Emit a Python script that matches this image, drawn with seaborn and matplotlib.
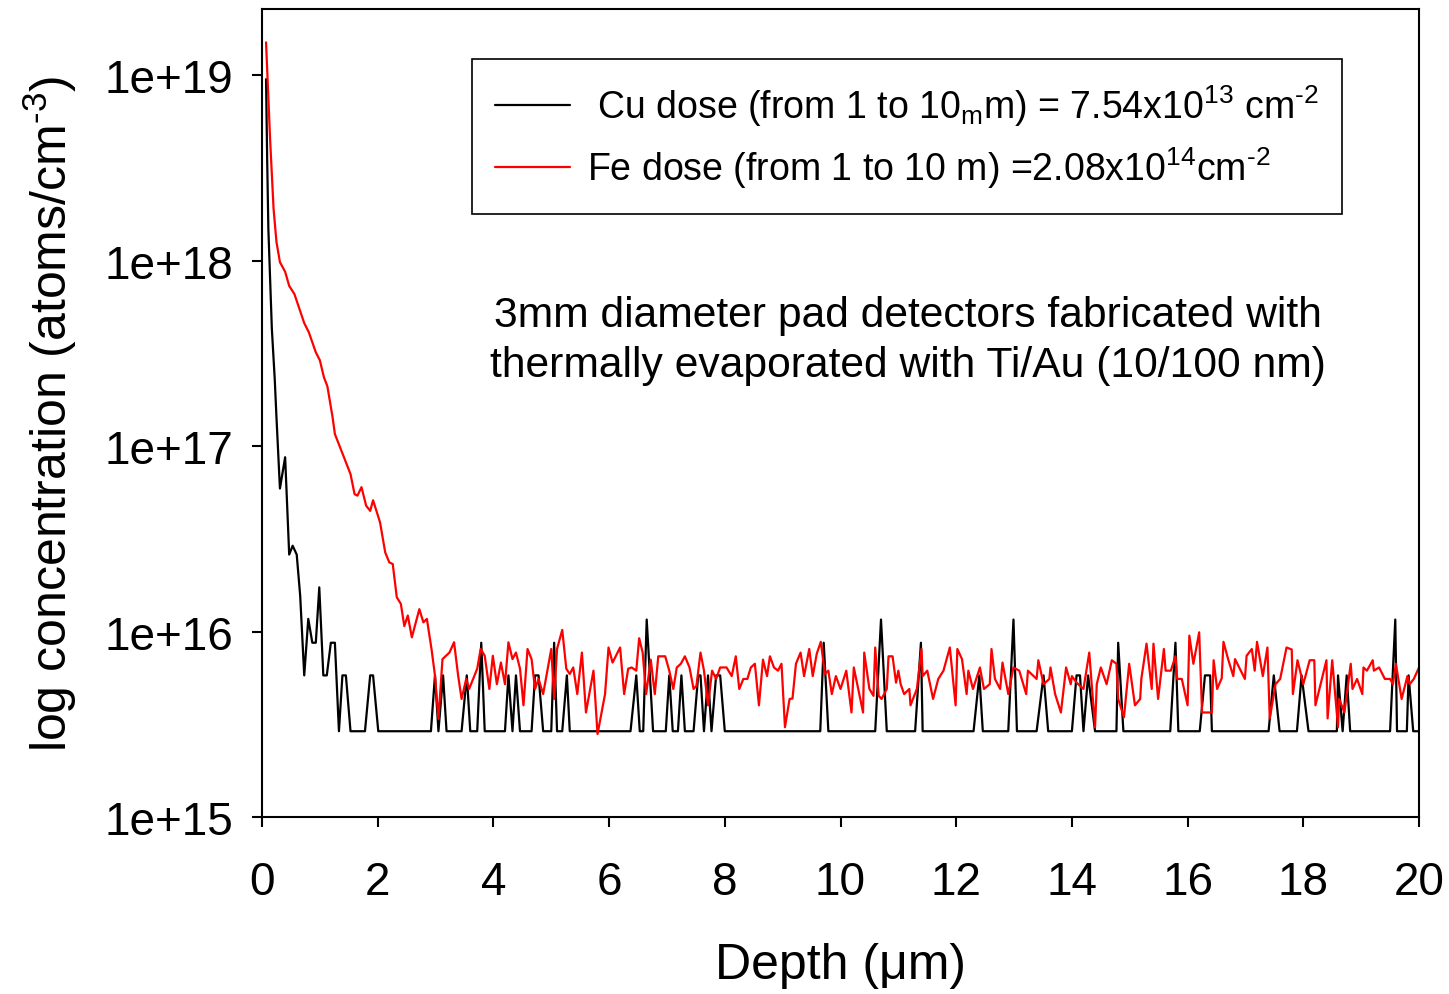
import numpy as np
import pandas as pd
import matplotlib
matplotlib.use("Agg")
import matplotlib.pyplot as plt
from matplotlib.ticker import NullLocator
import seaborn as sns

# ---------------- data (concentrations in units of 1e15 atoms/cm^3) ----------------
fe_depth = [
    0.07, 0.14, 0.20, 0.25, 0.31, 0.40, 0.47, 0.56, 0.73, 0.81,
    0.93, 1.00, 1.07, 1.13, 1.22, 1.26, 1.53, 1.60, 1.65, 1.72,
    1.80, 1.87, 1.92, 2.04, 2.13, 2.20, 2.26, 2.33, 2.40, 2.46,
    2.52, 2.59, 2.72, 2.79, 2.85, 2.93, 2.99, 3.05, 3.12, 3.24,
    3.32, 3.39, 3.45, 3.53, 3.58, 3.65, 3.72, 3.78, 3.85, 3.93,
    3.99, 4.06, 4.13, 4.20, 4.26, 4.33, 4.39, 4.46, 4.52, 4.59,
    4.66, 4.72, 4.78, 4.86, 5.00, 5.05, 5.10, 5.19, 5.26, 5.32,
    5.38, 5.45, 5.53, 5.60, 5.73, 5.80, 5.93, 5.99, 6.06, 6.19,
    6.26, 6.33, 6.39, 6.47, 6.52, 6.58, 6.64, 6.72, 6.79, 6.85,
    6.97, 7.04, 7.11, 7.17, 7.24, 7.31, 7.39, 7.46, 7.51, 7.58,
    7.64, 7.71, 7.78, 7.85, 7.92, 8.03, 8.12, 8.19, 8.25, 8.32,
    8.39, 8.45, 8.52, 8.59, 8.66, 8.73, 8.78, 8.85, 8.92, 8.98,
    9.04, 9.12, 9.17, 9.23, 9.31, 9.37, 9.46, 9.52, 9.59, 9.66,
    9.73, 9.79, 9.85, 9.92, 10.00, 10.10, 10.19, 10.23, 10.29, 10.39,
    10.41, 10.50, 10.57, 10.60, 10.66, 10.71, 10.80, 10.83, 10.90, 10.96,
    11.00, 11.04, 11.10, 11.19, 11.21, 11.32, 11.40, 11.42, 11.50, 11.60,
    11.69, 11.78, 11.89, 11.99, 12.02, 12.10, 12.18, 12.21, 12.29, 12.41,
    12.48, 12.58, 12.61, 12.67, 12.76, 12.80, 12.90, 12.99, 13.09, 13.21,
    13.24, 13.39, 13.42, 13.51, 13.61, 13.63, 13.71, 13.81, 13.90, 13.98,
    14.00, 14.08, 14.20, 14.30, 14.40, 14.43, 14.50, 14.60, 14.69, 14.77,
    14.80, 14.90, 14.99, 15.09, 15.18, 15.20, 15.29, 15.38, 15.41, 15.49,
    15.59, 15.62, 15.71, 15.79, 15.82, 15.90, 16.00, 16.03, 16.10, 16.20,
    16.25, 16.42, 16.45, 16.51, 16.59, 16.62, 16.70, 16.79, 16.82, 16.99,
    17.02, 17.11, 17.16, 17.20, 17.30, 17.38, 17.42, 17.52, 17.60, 17.71,
    17.80, 17.82, 17.90, 18.00, 18.11, 18.19, 18.21, 18.40, 18.42, 18.50,
    18.60, 18.62, 18.71, 18.82, 18.85, 18.93, 19.02, 19.04, 19.10, 19.20,
    19.22, 19.31, 19.41, 19.50, 19.55, 19.60, 19.70, 19.80, 19.84, 19.91,
    20.00,
]
fe_conc = [
    15000, 4500, 1900, 1260, 980, 870, 730, 660, 460, 410,
    320, 290, 235, 210, 143, 116, 70.6, 55, 54, 60,
    47.7, 44.7, 51, 38.8, 26.7, 23.6, 23.1, 15.3, 14.1, 10.7,
    12.2, 9.3, 13.2, 11.2, 11.7, 8.05, 5.8, 3.38, 7.1, 7.7,
    8.75, 5.8, 4.33, 5.55, 4.9, 5.55, 6.3, 8.05, 7.4, 4.9,
    7.4, 5.2, 6.8, 5.2, 8.75, 7.1, 7.7, 6.3, 4.0, 8.05,
    7.1, 4.9, 5.55, 4.6, 8.05, 4.33, 8.05, 10.2, 6.3, 5.9,
    6.4, 4.6, 7.7, 3.66, 6.15, 2.8, 4.6, 8.2, 6.8, 8.2,
    4.6, 6.3, 6.4, 6.15, 9.2, 7.7, 4.6, 7.05, 4.6, 7.35,
    7.35, 6.15, 4.9, 6.4, 6.7, 7.35, 6.4, 4.9, 5.1, 7.7,
    6.15, 4.0, 6.15, 5.55, 6.4, 6.4, 5.75, 7.35, 4.9, 5.55,
    5.55, 6.4, 6.7, 4.0, 7.05, 5.75, 7.35, 6.4, 6.15, 6.7,
    3.05, 4.33, 4.35, 6.7, 7.7, 5.75, 8.05, 5.75, 7.6, 8.8,
    5.9, 6.15, 4.6, 5.75, 4.9, 6.15, 3.66, 6.4, 5.2, 3.66,
    7.7, 4.9, 4.5, 8.2, 4.5, 4.33, 4.9, 7.35, 7.35, 5.3,
    6.15, 5.2, 4.6, 4.9, 4.0, 4.9, 8.05, 5.75, 6.15, 4.33,
    5.55, 6.15, 8.2, 4.0, 8.05, 7.1, 4.6, 6.15, 4.9, 6.4,
    4.9, 5.2, 8.05, 5.55, 4.9, 6.8, 4.6, 6.4, 6.15, 4.6,
    6.15, 5.55, 7.0, 5.2, 5.55, 6.4, 4.6, 3.66, 6.4, 5.2,
    5.75, 5.3, 4.9, 7.7, 3.05, 5.2, 6.4, 5.2, 7.0, 6.7,
    4.33, 3.45, 6.7, 4.0, 4.33, 5.55, 8.6, 4.9, 8.6, 4.33,
    8.05, 6.15, 6.15, 7.35, 5.55, 5.55, 4.0, 9.5, 6.7, 9.9,
    3.66, 3.66, 7.0, 4.9, 5.6, 8.8, 7.1, 5.75, 7.1, 5.55,
    7.4, 8.05, 6.15, 8.8, 5.75, 8.2, 3.4, 5.2, 5.55, 8.2,
    8.0, 4.6, 7.0, 5.2, 7.0, 7.0, 4.0, 7.0, 3.4, 7.0,
    3.05, 4.33, 3.66, 6.7, 4.9, 5.55, 4.6, 6.4, 6.15, 7.0,
    6.15, 6.4, 5.55, 5.55, 5.2, 6.7, 4.33, 5.75, 5.2, 5.55,
    6.4,
]

cu_depth = [
    0.07, 0.09, 0.11, 0.17, 0.22, 0.25, 0.31, 0.40, 0.47, 0.53,
    0.60, 0.66, 0.73, 0.80, 0.87, 0.93, 0.99, 1.06, 1.12, 1.19,
    1.26, 1.33, 1.39, 1.45, 1.53, 1.78, 1.87, 1.92, 2.01, 2.92,
    2.99, 3.05, 3.13, 3.19, 3.45, 3.54, 3.60, 3.72, 3.79, 3.85,
    4.20, 4.26, 4.33, 4.39, 4.46, 4.66, 4.72, 4.78, 4.86, 5.00,
    5.05, 5.10, 5.19, 5.27, 5.32, 6.37, 6.47, 6.53, 6.59, 6.65,
    6.76, 6.98, 7.04, 7.10, 7.19, 7.25, 7.31, 7.46, 7.54, 7.58,
    7.64, 7.71, 7.77, 7.85, 7.92, 8.00, 9.65, 9.71, 9.79, 10.60,
    10.70, 10.80, 11.29, 11.39, 11.42, 12.30, 12.40, 12.46, 12.90, 12.99,
    13.05, 13.39, 13.51, 13.59, 14.00, 14.08, 14.14, 14.20, 14.28, 14.40,
    14.77, 14.80, 14.89, 15.70, 15.79, 15.84, 16.21, 16.30, 16.39, 16.42,
    17.40, 17.49, 17.59, 17.89, 17.97, 18.09, 18.58, 18.60, 18.68, 18.75,
    18.81, 19.50, 19.59, 19.62, 19.79, 19.82, 19.90, 20.00,
]
cu_conc = [
    9500, 3400, 1480, 430, 230, 143, 59, 87, 26, 29,
    26, 15.6, 5.8, 11.7, 8.7, 8.7, 17.3, 5.8, 5.8, 8.7,
    8.7, 2.9, 5.8, 5.8, 2.9, 2.9, 5.8, 5.8, 2.9, 2.9,
    5.8, 2.9, 5.8, 2.9, 2.9, 5.8, 2.9, 2.9, 8.7, 2.9,
    2.9, 5.8, 2.9, 5.8, 2.9, 2.9, 5.8, 5.8, 2.9, 2.9,
    8.7, 2.9, 2.9, 5.8, 2.9, 2.9, 5.8, 2.9, 2.9, 11.6,
    2.9, 2.9, 5.8, 2.9, 2.9, 5.8, 2.9, 2.9, 5.8, 5.8,
    2.9, 5.8, 2.9, 5.8, 5.8, 2.9, 2.9, 8.7, 2.9, 2.9,
    11.6, 2.9, 2.9, 8.7, 2.9, 2.9, 5.8, 2.9, 2.9, 11.6,
    2.9, 2.9, 5.8, 2.9, 2.9, 5.8, 5.8, 2.9, 5.8, 2.9,
    2.9, 8.7, 2.9, 2.9, 8.7, 2.9, 2.9, 5.8, 5.8, 2.9,
    2.9, 5.8, 2.9, 2.9, 5.8, 2.9, 2.9, 5.8, 2.9, 5.8,
    2.9, 2.9, 11.6, 2.9, 2.9, 5.8, 2.9, 2.9,
]
assert len(fe_depth) == len(fe_conc)
assert len(cu_depth) == len(cu_conc)

series_names = ["Cu", "Fe"]
series_colors = ["black", "red"]
HY = "\u2010"  # short hyphen used in the superscripts
legend_labels = [
    " Cu dose (from 1 to 10$_{m}$m) = 7.54x10$^{13}$ cm$^{" + HY + "2}$",
    "Fe dose (from 1 to 10 m) =2.08x10$^{14}$cm$^{" + HY + "2}$",
]
x_ticks = [0, 2, 4, 6, 8, 10, 12, 14, 16, 18, 20]
y_tick_values = [1e15, 1e16, 1e17, 1e18, 1e19]
y_tick_labels = ["1e+15", "1e+16", "1e+17", "1e+18", "1e+19"]
note_text = "3mm diameter pad detectors fabricated with\nthermally evaporated with Ti/Au (10/100 nm)"
x_label = "Depth (\u03bcm)"
y_label = "log concentration (atoms/cm$^{" + HY + "3}$)"

# ---------------- build table ----------------
df = pd.concat([
    pd.DataFrame({"depth": cu_depth, "conc": np.array(cu_conc) * 1e15, "series": "Cu"}),
    pd.DataFrame({"depth": fe_depth, "conc": np.array(fe_conc) * 1e15, "series": "Fe"}),
], ignore_index=True)

# ---------------- style ----------------
sns.set_style("ticks")
plt.rcParams["font.family"] = ["Liberation Sans", "DejaVu Sans"]
plt.rcParams["mathtext.default"] = "regular"
for k in ["text.color", "axes.labelcolor", "xtick.color", "ytick.color", "axes.edgecolor"]:
    plt.rcParams[k] = "black"

W, H = 1449, 995
fig = plt.figure(figsize=(W / 100, H / 100), dpi=100)
ax = fig.add_axes([262 / W, 1 - 818 / H, (1419 - 262) / W, 808 / H])

sns.lineplot(data=df, x="depth", y="conc", hue="series", hue_order=series_names,
             palette=dict(zip(series_names, series_colors)), estimator=None,
             sort=False, linewidth=1.6, ax=ax, legend=False)

ax.set_yscale("log")
ax.set_xlim(0, 20)
ax.set_ylim(1e15, 2.27e19)
ax.set_xticks(x_ticks)
ax.set_xticklabels([str(t) for t in x_ticks])
ax.set_yticks(y_tick_values)
ax.set_yticklabels(y_tick_labels)
ax.yaxis.set_minor_locator(NullLocator())
ax.xaxis.set_minor_locator(NullLocator())

for s in ax.spines.values():
    s.set_visible(True)
    s.set_linewidth(1.5)
    s.set_color("black")
ax.tick_params(axis="both", direction="out", length=7, width=1.5, labelsize=33,
               colors="black")
ax.tick_params(axis="x", pad=24)
ax.tick_params(axis="y", pad=14)

ax.set_xlabel(x_label, fontsize=36, labelpad=27)
ax.set_ylabel(y_label, fontsize=36, labelpad=18)

leg = ax.legend(ax.lines[:2], legend_labels, loc="upper left",
                bbox_to_anchor=(0.1815, 0.938), borderaxespad=0,
                fontsize=27, frameon=True, fancybox=False, framealpha=1,
                edgecolor="black", handlelength=2.0, handletextpad=0.45,
                borderpad=0.62, labelspacing=0.45)
leg.get_frame().set_linewidth(1.2)

ax.text(0.558, 0.59, note_text, transform=ax.transAxes, ha="center",
        va="center", fontsize=30.7, linespacing=1.32, multialignment="center")

fig.savefig("out.png", dpi=100)
